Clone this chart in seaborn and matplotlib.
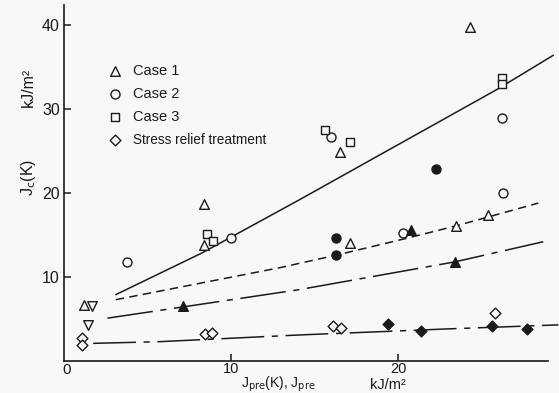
import matplotlib
matplotlib.use("Agg")
import matplotlib.pyplot as plt
import seaborn as sns

# ------------ DATA ------------
case1_x = [24.3, 16.5, 8.4, 8.4, 1.2, 17.1, 23.5, 25.4]
case1_y = [39.8, 24.9, 18.7, 13.8, 6.7, 14.0, 16.1, 17.4]
case1_fill_x = [7.1, 23.4, 20.8]
case1_fill_y = [6.5, 11.8, 15.6]
case1_inv_x = [1.7, 1.45]
case1_inv_y = [6.5, 4.3]

case2_x = [3.8, 10.0, 16.0, 26.2, 26.3, 20.3]
case2_y = [11.8, 14.6, 26.7, 28.9, 20.0, 15.2]
case2_fill_x = [22.3, 16.3, 16.3]
case2_fill_y = [22.9, 14.6, 12.6]

case3_x = [8.55, 8.9, 15.6, 17.1, 26.2, 26.2]
case3_y = [15.1, 14.3, 27.5, 26.1, 33.7, 33.0]

stress_x = [1.1, 1.1, 8.45, 8.85, 16.1, 16.6, 25.8]
stress_y = [2.7, 1.9, 3.2, 3.3, 4.2, 3.9, 5.7]
stress_fill_x = [19.4, 21.4, 25.6, 27.7]
stress_fill_y = [4.4, 3.6, 4.2, 3.8]

# trend lines
solid_x = [3.1, 8.3, 14.1, 25.9, 29.3]
solid_y = [7.9, 12.9, 19.2, 32.3, 36.4]
dashed_x = [3.1, 12.9, 16.3, 20.5, 23.5, 28.4]
dashed_y = [7.3, 11.1, 12.6, 14.6, 16.1, 18.8]
dashdot_x = [2.6, 14.1, 23.4, 28.7]
dashdot_y = [5.1, 8.5, 11.8, 14.2]
bottom_x = [1.75, 5.7, 14.1, 22.7, 29.6]
bottom_y = [2.1, 2.3, 3.1, 3.8, 4.3]

# ------------ STYLE ------------
sns.set_style("ticks")
plt.rcParams["font.family"] = ["Liberation Sans", "DejaVu Sans"]
INK = "#1a1a1a"
BG = "#f8f8f6"

fig = plt.figure(figsize=(5.59, 3.93), dpi=100, facecolor=BG)
ax = fig.add_axes([64 / 559, 32 / 393, 495 / 559, 361 / 393])
ax.set_facecolor(BG)

# ------------ LINES ------------
line_specs = [
    (solid_x, solid_y, "-"),
    (dashed_x, dashed_y, (0, (5.5, 3.5))),
    (dashdot_x, dashdot_y, (0, (30, 5, 4, 5))),
    (bottom_x, bottom_y, (0, (28, 5, 4, 5))),
]
for lx, ly, ls in line_specs:
    sns.lineplot(x=lx, y=ly, ax=ax, color=INK, linewidth=1.1,
                 linestyle=ls, sort=True, clip_on=False)

# ------------ POINTS ------------
def pts(x, y, marker, filled, size, label=None):
    sns.scatterplot(x=x, y=y, ax=ax, marker=marker, s=size,
                    facecolor=INK if filled else BG, edgecolor=INK,
                    linewidth=1.0, label=label, zorder=5, clip_on=False)

pts(case1_x, case1_y, "^", False, 48, "Case 1")
pts(case2_x, case2_y, "o", False, 42, "Case 2")
pts(case3_x, case3_y, "s", False, 38, "Case 3")
pts(stress_x, stress_y, "D", False, 30, "Stress relief treatment")
pts(case1_fill_x, case1_fill_y, "^", True, 48)
pts(case1_inv_x, case1_inv_y, "v", False, 48)
pts(case2_fill_x, case2_fill_y, "o", True, 42)
pts(stress_fill_x, stress_fill_y, "D", True, 30)

# ------------ AXES ------------
ax.set_xlim(0, 29.64)
ax.set_ylim(0, 42.98)
ax.spines["right"].set_visible(False)
ax.spines["top"].set_visible(False)
ax.spines["bottom"].set_bounds(0, 29.0)
ax.spines["left"].set_bounds(0, 42.4)
for sp in ("left", "bottom"):
    ax.spines[sp].set_linewidth(1.2)
    ax.spines[sp].set_color(INK)

ax.set_xticks([10, 20])
ax.set_yticks([10, 20, 30, 40])
ax.tick_params(axis="both", direction="in", length=5, width=1.1,
               colors=INK, labelsize=11.5)
ax.tick_params(axis="x", pad=0.5, labelsize=10.5)
ax.tick_params(axis="y", pad=3)
ax.set_xlabel("")
ax.set_ylabel("")

fig.text(67 / 559, 1 - 370 / 393, "0", fontsize=11, color=INK,
         ha="center", va="center")
fig.text(28 / 559, 1 - 177 / 393, r"J$_\mathrm{c}$(K)", fontsize=11.5,
         color=INK, rotation=90, ha="center", va="center")
fig.text(28 / 559, 1 - 87 / 393, "kJ/m²", fontsize=11.5,
         color=INK, rotation=90, ha="center", va="center")
fig.text(278 / 559, 1 - 384 / 393, r"J$_\mathrm{pre}$(K), J$_\mathrm{pre}$",
         fontsize=10, color=INK, ha="center", va="center")
fig.text(388 / 559, 1 - 385 / 393, "kJ/m²", fontsize=10.5,
         color=INK, ha="center", va="center")

leg = ax.legend(loc="upper left", bbox_to_anchor=(38 / 495, 1 - 58 / 361),
                frameon=False, fontsize=10.5, handletextpad=0.75,
                labelspacing=0.62, borderaxespad=0, handlelength=1.0)
for t in leg.get_texts():
    t.set_color(INK)
leg.get_texts()[3].set_fontsize(9.8)

fig.savefig("out.png", dpi=100, facecolor=BG)
